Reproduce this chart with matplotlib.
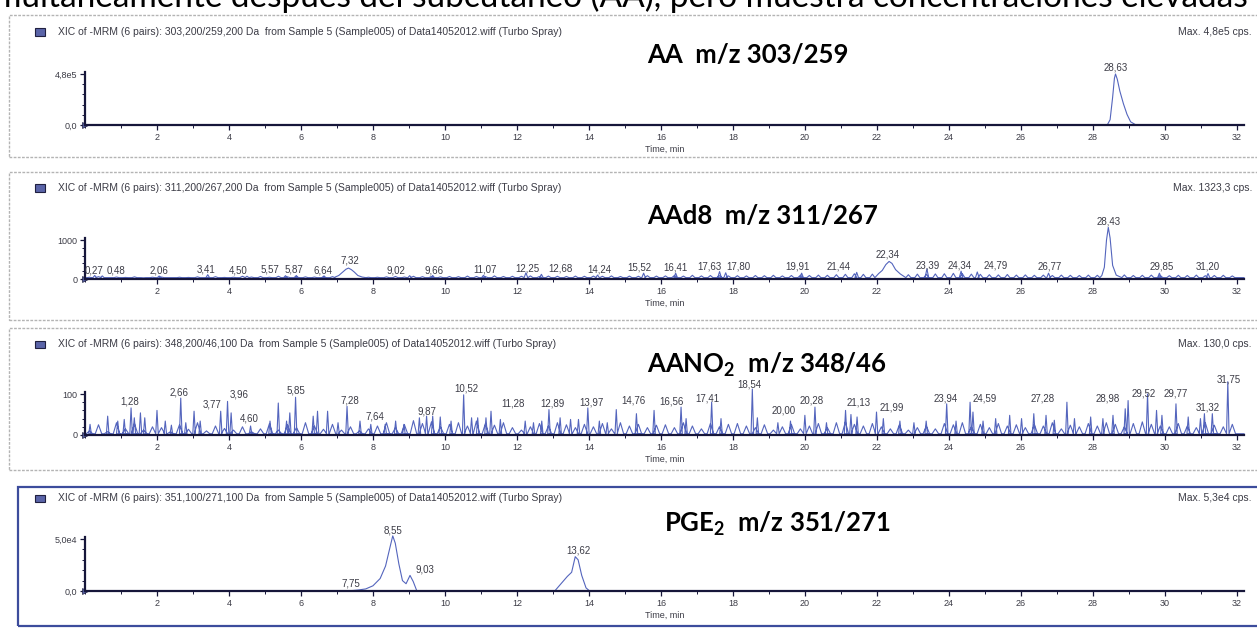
import numpy as np
import matplotlib.pyplot as plt
from matplotlib.patches import Rectangle
from matplotlib.ticker import MultipleLocator

plt.rcParams['font.family'] = ['Liberation Sans', 'DejaVu Sans']
plt.rcParams['mathtext.fontset'] = 'custom'
plt.rcParams['mathtext.rm'] = 'Lato'
plt.rcParams['mathtext.bf'] = 'Lato:bold'

# ---------------- data ----------------
x_ticks = list(range(2, 34, 2))
grass_time = list(np.arange(0.125, 32.0, 0.25))   # sampling grid of the small noise spikes

# AA  m/z 303/259
aa_time = [0.0, 28.40, 28.48, 28.55, 28.60, 28.63, 28.68, 28.75, 28.85, 28.95, 29.05, 29.20, 32.2]
aa_int = [0, 0, 0.5e5, 2.6e5, 4.4e5, 4.8e5, 4.3e5, 3.2e5, 2.0e5, 1.0e5, 0.3e5, 0, 0]
aa_lbl = ['28,63']
aa_lbl_t = [28.63]
aa_lbl_y = [5.4e5]

# AAd8  m/z 311/267
aad8_grass = [45, 60, 35, 50, 40, 55, 30, 45,
              50, 35, 45, 40, 55, 35, 60, 40,
              45, 70, 50, 65, 45, 70, 55, 60,
              55, 50, 45, 60, 50, 55, 60, 45,
              45, 55, 65, 50, 70, 60, 65, 55,
              65, 60, 75, 65, 60, 80, 65, 70,
              70, 80, 65, 75, 70, 65, 75, 70,
              75, 70, 80, 65, 75, 70, 85, 75,
              80, 90, 75, 95, 80, 90, 85, 80,
              85, 80, 90, 85, 95, 80, 90, 95,
              90, 100, 95, 110, 120, 135, 120, 125,
              140, 130, 115, 110, 125, 120, 130, 135,
              145, 135, 125, 120, 110, 105, 115, 100,
              105, 95, 100, 90, 100, 95, 90, 100,
              95, 90, 100, 105, 90, 95, 100, 90,
              85, 95, 90, 100, 85, 90, 95, 80]
aad8_spike_t = [0.27, 0.48, 2.06, 3.41, 4.50, 5.57, 5.87, 6.64, 9.02, 9.66, 11.07, 12.25, 12.68,
                14.24, 15.52, 16.41, 17.63, 17.80, 19.91, 21.44, 23.39, 24.34, 24.79, 26.77,
                29.85, 31.20]
aad8_spike_h = [90, 80, 75, 110, 70, 85, 90, 80, 85, 90, 95, 160, 120,
                100, 150, 150, 190, 160, 150, 170, 260, 200, 180, 150,
                150, 140]
aad8_bump_t = [[6.95, 7.05, 7.15, 7.25, 7.32, 7.40, 7.48, 7.58, 7.70],
               [22.05, 22.15, 22.25, 22.34, 22.42, 22.52, 22.65],
               [28.25, 28.32, 28.38, 28.43, 28.48, 28.55, 28.65]]
aad8_bump_i = [[50, 90, 170, 250, 280, 240, 180, 90, 50],
               [140, 220, 370, 450, 400, 240, 130],
               [90, 300, 1000, 1323, 1050, 350, 100]]
aad8_lbl = ['0,27', '0,48', '2,06', '3,41', '4,50', '5,57', '5,87', '6,64', '7,32', '9,02', '9,66',
            '11,07', '12,25', '12,68', '14,24', '15,52', '16,41', '17,63', '17,80', '19,91',
            '21,44', '22,34', '23,39', '24,34', '24,79', '26,77', '28,43', '29,85', '31,20']
aad8_lbl_t = [0.25, 0.85, 2.06, 3.37, 4.25, 5.15, 5.80, 6.60, 7.37, 8.65, 9.70,
              11.10, 12.30, 13.20, 14.30, 15.40, 16.40, 17.35, 18.15, 19.80,
              20.95, 22.30, 23.40, 24.30, 25.30, 26.80, 28.43, 29.90, 31.20]
aad8_lbl_y = [230, 230, 230, 250, 230, 250, 250, 230, 480, 230, 230,
              250, 280, 270, 240, 300, 300, 330, 320, 320,
              330, 620, 350, 340, 340, 320, 1480, 320, 320]

# AANO2  m/z 348/46
aano2_grass = [10, 25, 8, 30, 15, 28, 12, 20,
               18, 8, 25, 14, 30, 10, 22, 16,
               12, 20, 8, 15, 28, 12, 25, 18,
               30, 22, 14, 26, 12, 20, 10, 15,
               22, 30, 18, 25, 35, 28, 32, 20,
               26, 30, 22, 34, 28, 24, 30, 18,
               12, 20, 28, 22, 30, 25, 18, 26,
               20, 28, 15, 30, 22, 26, 18, 24,
               25, 18, 30, 22, 15, 28, 20, 26,
               28, 22, 18, 25, 12, 20, 26, 15,
               22, 28, 18, 30, 32, 26, 22, 28,
               20, 15, 25, 12, 18, 22, 15, 28,
               25, 30, 20, 26, 18, 28, 22, 25,
               18, 26, 22, 30, 15, 24, 20, 28,
               22, 30, 26, 20, 28, 32, 26, 22,
               20, 28, 22, 18, 30, 24, 20, 26]
aano2_spike_t = [0.14, 0.63, 0.91, 1.09, 1.28, 1.37, 1.54, 1.66, 2.00, 2.23, 2.40, 2.66, 2.80,
                 3.03, 3.20, 3.77, 3.96, 4.06, 4.60, 5.14, 5.37, 5.60, 5.69, 5.85, 6.34, 6.46,
                 6.74, 7.03, 7.28, 7.64, 7.94, 8.34, 8.63, 8.86, 9.29, 9.49, 9.66, 9.87, 10.17,
                 10.52, 10.74, 10.91, 11.14, 11.28, 11.54, 12.23, 12.46, 12.69, 12.89, 13.20,
                 13.49, 13.71, 13.97, 14.29, 14.51, 14.76,
                 15.32, 15.81, 16.56, 16.70, 17.41, 17.67, 18.54, 18.68, 19.25, 19.60, 20.00,
                 20.28, 20.60, 21.13, 21.28, 21.45, 21.99, 22.18, 22.64, 23.03, 23.37, 23.94,
                 24.20, 24.59, 24.67, 24.95, 25.30, 25.69, 26.02, 26.36, 26.70, 26.93, 27.28,
                 27.49, 27.94, 28.28, 28.56, 28.90, 28.98, 29.52, 29.77, 29.92, 30.31, 30.65,
                 30.99, 31.10, 31.32, 31.75]
aano2_spike_h = [26, 46, 34, 38, 66, 42, 54, 42, 60, 34, 24, 90, 30,
                 58, 34, 58, 82, 54, 22, 34, 78, 34, 54, 92, 46, 58,
                 58, 30, 70, 34, 26, 26, 34, 26, 42, 46, 46, 44, 34,
                 98, 42, 42, 42, 58, 38, 34, 30, 34, 62, 42,
                 38, 38, 66, 34, 30, 62,
                 52, 60, 68, 40, 80, 40, 112, 42, 30, 34, 48,
                 68, 30, 60, 50, 44, 56, 40, 34, 30, 34, 76,
                 34, 80, 56, 34, 40, 48, 40, 52, 48, 36, 80,
                 40, 44, 40, 48, 64, 84, 100, 60, 48, 76, 44,
                 40, 52, 52, 130]
aano2_lbl = ['1,28', '2,66', '3,77', '3,96', '4,60', '5,85', '7,28', '7,64', '9,87', '10,52',
             '11,28', '12,89', '13,97', '14,76', '16,56', '17,41', '18,54', '20,00', '20,28',
             '21,13', '21,99', '23,94', '24,59', '27,28', '28,98', '29,52', '29,77', '31,32',
             '31,75']
aano2_lbl_t = [1.23, 2.60, 3.54, 4.29, 4.57, 5.86, 7.35, 8.06, 9.49, 10.60,
               11.90, 13.00, 14.06, 15.24, 16.30, 17.28, 18.46, 19.42, 20.20,
               21.50, 22.40, 23.90, 25.00, 26.60, 28.40, 29.41, 30.30, 31.20,
               31.78]
aano2_lbl_y = [82, 104, 74, 98, 41, 108, 84, 44, 58, 114,
               76, 76, 80, 84, 82, 90, 124, 60, 84,
               80, 68, 90, 90, 90, 90, 100, 100, 68,
               136]

# PGE2  m/z 351/271
pge2_time = [0.0, 7.30, 7.60, 7.80, 8.00, 8.20, 8.35, 8.48, 8.55, 8.62, 8.72, 8.82, 8.92,
             9.03, 9.12, 9.22, 13.05, 13.25, 13.40, 13.52, 13.62, 13.70, 13.80, 13.92, 14.02, 32.2]
pge2_int = [0, 0, 0.1e4, 0.2e4, 0.5e4, 1.2e4, 2.4e4, 4.3e4, 5.3e4, 4.6e4, 2.6e4, 1.0e4, 0.7e4,
            1.5e4, 0.9e4, 0, 0, 0.8e4, 1.4e4, 1.8e4, 3.3e4, 3.0e4, 1.5e4, 0.3e4, 0, 0]
pge2_lbl = ['7,75', '8,55', '9,03', '13,62']
pge2_lbl_t = [7.40, 8.57, 9.45, 13.70]
pge2_lbl_y = [0.7e4, 5.8e4, 2.1e4, 3.9e4]

headers = ['XIC of -MRM (6 pairs): 303,200/259,200 Da  from Sample 5 (Sample005) of Data14052012.wiff (Turbo Spray)',
           'XIC of -MRM (6 pairs): 311,200/267,200 Da  from Sample 5 (Sample005) of Data14052012.wiff (Turbo Spray)',
           'XIC of -MRM (6 pairs): 348,200/46,100 Da  from Sample 5 (Sample005) of Data14052012.wiff (Turbo Spray)',
           'XIC of -MRM (6 pairs): 351,100/271,100 Da  from Sample 5 (Sample005) of Data14052012.wiff (Turbo Spray)']
max_texts = ['Max. 4,8e5 cps.', 'Max. 1323,3 cps.', 'Max. 130,0 cps.', 'Max. 5,3e4 cps.']
titles = ['AA  m/z 303/259', 'AAd8  m/z 311/267',
          r'AANO$_\mathbf{2}$  m/z 348/46', r'PGE$_\mathbf{2}$  m/z 351/271']
ytop_val = [4.8e5, 1000, 100, 5.0e4]
ytop_lbl = ['4,8e5', '1000', '100', '5,0e4']
yzero_lbl = ['0,0', '0', '0', '0,0']
sentence = 'multáneamente después del subcutáneo (AA), pero muestra concentraciones elevadas'


def build_trace(grass_t, grass_h, spike_t, spike_h, bump_t, bump_i, base, hw_g, hw_s, t_end=32.2):
    """Join small spikes, labelled spikes and smooth bumps into one polyline."""
    chunks = []
    spans = [(bt[0], bt[-1]) for bt in bump_t]
    for t, h in zip(grass_t, grass_h):
        if any(a - 0.05 <= t <= b + 0.05 for a, b in spans):
            continue
        chunks.append((t - hw_g, [t - hw_g, t, t + hw_g], [base, h, base]))
    for t, h in zip(spike_t, spike_h):
        if any(a <= t <= b for a, b in spans):
            continue
        chunks.append((t - hw_s, [t - hw_s, t, t + hw_s], [base, h, base]))
    for bt, bi in zip(bump_t, bump_i):
        chunks.append((bt[0], list(bt), list(bi)))
    chunks.sort(key=lambda c: c[0])
    xs, ys = [0.0], [base]
    for _, cx, cy in chunks:
        xs += cx
        ys += cy
    xs.append(t_end)
    ys.append(base)
    return xs, ys


aad8_time, aad8_int = build_trace(grass_time, aad8_grass, aad8_spike_t, aad8_spike_h,
                                  aad8_bump_t, aad8_bump_i, 35, 0.07, 0.05)
aano2_time, aano2_int = build_trace(grass_time, aano2_grass, aano2_spike_t, aano2_spike_h,
                                    [], [], 3, 0.09, 0.035)

traces = [(aa_time, aa_int), (aad8_time, aad8_int), (aano2_time, aano2_int), (pge2_time, pge2_int)]
labels = [(aa_lbl, aa_lbl_t, aa_lbl_y), (aad8_lbl, aad8_lbl_t, aad8_lbl_y),
          (aano2_lbl, aano2_lbl_t, aano2_lbl_y), (pge2_lbl, pge2_lbl_t, pge2_lbl_y)]

# ---------------- layout (pixels) ----------------
W, H = 1257, 628
X0, X1, T_MAX = 85, 1244, 32.2
base_px = [125, 279, 435, 591]
top_px = [74, 240, 394, 539]
header_px = [32, 188, 344, 498]
title_px = [(647, 55), (647, 216), (647, 365), (664, 524)]
frames = [(9, 15, 157), (9, 172, 320), (9, 328, 470), (18, 487, 626)]

TRACE = '#5465bd'
AXIS = '#16163a'
TXT = '#3c3c46'
ICON = '#5a64a8'


def fx(x):
    return x / W


def fy(y):
    return 1 - y / H


fig = plt.figure(figsize=(W / 100, H / 100), dpi=100)
fig.patch.set_facecolor('white')

# partly cut sentence of the page above the figure
top = fig.text(fx(-6), fy(7), sentence, fontsize=20, family='Lato', va='baseline', color='black')
r = fig.canvas.get_renderer()
wpx = top.get_window_extent(renderer=r).width
top.set_fontsize(20 * 1258 / wpx)

for k in range(4):
    fl, ft, fb = frames[k]
    ec = '#3c4c9c' if k == 3 else '#b4b4b4'
    fig.add_artist(Rectangle((fx(fl), fy(fb)), fx(W + 20 - fl), (fb - ft) / H, transform=fig.transFigure,
                             fill=False, edgecolor=ec, lw=1.6 if k == 3 else 1.0,
                             ls='-' if k == 3 else (0, (2, 1))))

    hy = header_px[k]
    fig.add_artist(Rectangle((fx(35), fy(hy + 3.5)), 10 / W, 7 / H, transform=fig.transFigure,
                             facecolor=ICON, edgecolor='#202040', lw=0.8))
    fig.text(fx(58), fy(hy), headers[k], fontsize=7.5, va='center', color=TXT)
    fig.text(fx(1252), fy(hy), max_texts[k], fontsize=7.5, va='center', ha='right', color=TXT)
    tx, ty = title_px[k]
    fig.text(fx(tx), fy(ty), titles[k], fontsize=18.5, fontweight='bold', family='Lato',
             va='center', ha='left', color='black')

    topv = ytop_val[k]
    ymax = topv * 1.35
    h_frac = (base_px[k] - top_px[k]) / H * ymax / topv
    ax = fig.add_axes([fx(X0), fy(base_px[k]), fx(X1) - fx(X0), h_frac])
    ax.patch.set_alpha(0)
    ax.set_xlim(0, T_MAX)
    ax.set_ylim(0, ymax)

    t, i = traces[k]
    ax.plot(t, i, color=TRACE, lw=0.8, clip_on=False)
    ax.plot([0], [0], marker='>', ms=5, color=ICON, mec='#202040', mew=0.5, clip_on=False)

    for s in ['top', 'right']:
        ax.spines[s].set_visible(False)
    for s in ['left', 'bottom']:
        ax.spines[s].set_color(AXIS)
        ax.spines[s].set_linewidth(1.6)
    ax.spines['left'].set_bounds(0, topv * 1.04)

    ax.set_xticks(x_ticks)
    ax.set_xticklabels([str(v) for v in x_ticks])
    ax.xaxis.set_minor_locator(MultipleLocator(1))
    ax.set_yticks([0, topv])
    ax.set_yticklabels([yzero_lbl[k], ytop_lbl[k]])
    ax.set_yticks([topv * j / 5 for j in range(1, 5)], minor=True)
    ax.tick_params(which='major', labelsize=6.5, colors=AXIS, labelcolor=TXT, length=3.5, width=0.9, pad=2)
    ax.tick_params(which='minor', colors=AXIS, length=2, width=0.7)
    ax.set_xlabel('Time, min', fontsize=6.5, color=TXT, labelpad=2)

    for txt, lt, ly in zip(*labels[k]):
        ax.text(lt, ly, txt, fontsize=7, ha='center', va='center', color=TXT, clip_on=False)

fig.savefig('out.png', dpi=100, facecolor='white')
